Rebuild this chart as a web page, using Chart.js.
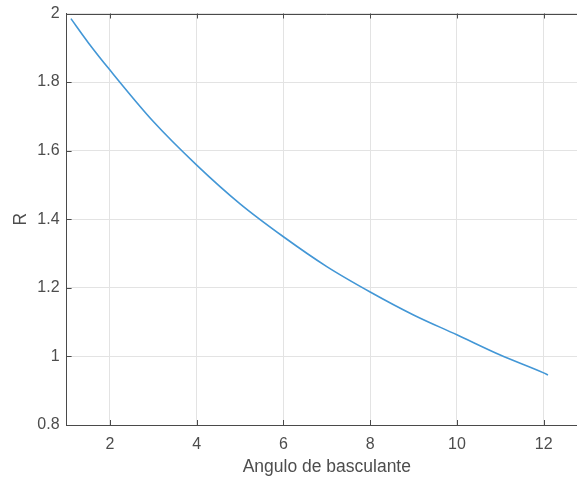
<!DOCTYPE html>
<html>
<head>
<meta charset="utf-8">
<script src="https://cdn.jsdelivr.net/npm/chart.js@4.4.1/dist/chart.umd.min.js"></script>
<style>
html,body{margin:0;padding:0;background:#fff;overflow:hidden;width:577px;height:478px;}
#wrap{position:absolute;left:0;top:0;width:600px;height:478px;}
</style>
</head>
<body>
<div id="wrap"><canvas id="c" width="600" height="478"></canvas></div>
<script>
// Data
const anguloValues = [1.1, 1.5, 2, 3, 4, 5, 6, 7, 8, 9, 10, 11, 12, 12.1];
const rValues      = [1.985, 1.915, 1.835, 1.685, 1.558, 1.445, 1.349, 1.262, 1.188, 1.121, 1.063, 1.004, 0.952, 0.946];
const xTickValues  = [2, 4, 6, 8, 10, 12];
const yTickValues  = [0.8, 1, 1.2, 1.4, 1.6, 1.8, 2];
const xTitle = 'Angulo de basculante';
const yTitle = 'R';

const points = anguloValues.map((x, i) => ({x: x, y: rValues[i]}));
const AXIS = '#4a4a4a';
const FONT = "'Liberation Sans', Arial, Helvetica, sans-serif";

const innerTicks = {
  id: 'innerTicks',
  afterDatasetsDraw(chart) {
    const {ctx, chartArea: a, scales: {x, y}} = chart;
    ctx.save();
    ctx.strokeStyle = AXIS;
    ctx.lineWidth = 1;
    ctx.beginPath();
    ctx.moveTo(a.left, Math.round(a.top) + 0.5);
    ctx.lineTo(a.right, Math.round(a.top) + 0.5);
    ctx.stroke();
    ctx.beginPath();
    xTickValues.forEach(v => {
      const px = Math.round(x.getPixelForValue(v)) + 0.5;
      ctx.moveTo(px, a.bottom); ctx.lineTo(px, a.bottom - 5);
      ctx.moveTo(px, a.top); ctx.lineTo(px, a.top + 5);
    });
    yTickValues.forEach(v => {
      const py = Math.round(y.getPixelForValue(v)) + 0.5;
      ctx.moveTo(a.left, py); ctx.lineTo(a.left + 5, py);
    });
    ctx.stroke();
    ctx.restore();
  }
};

new Chart(document.getElementById('c'), {
  type: 'line',
  data: {
    datasets: [{
      data: points,
      borderColor: '#4397d6',
      borderWidth: 1.6,
      pointRadius: 0,
      cubicInterpolationMode: 'monotone',
      fill: false
    }]
  },
  options: {
    responsive: false,
    animation: false,
    layout: {padding: {left: 0, top: 13.5, right: 13, bottom: 0}},
    plugins: {legend: {display: false}, tooltip: {enabled: false}},
    scales: {
      x: {
        type: 'linear',
        min: 1, max: 13,
        afterBuildTicks: s => { s.ticks = xTickValues.map(v => ({value: v})); },
        afterFit: s => { s.height = 53; s.paddingLeft = 0; s.paddingRight = 0; },
        grid: {color: '#e3e3e3', drawTicks: false, lineWidth: 1},
        border: {color: AXIS, width: 1},
        ticks: {color: '#4d4d4d', font: {family: FONT, size: 16}, padding: 10, maxRotation: 0,
                callback: v => String(v)},
        title: {display: true, text: xTitle, color: '#4d4d4d', font: {family: FONT, size: 17.5}, padding: {top: 0, bottom: 0}}
      },
      y: {
        type: 'linear',
        min: 0.8, max: 2,
        afterBuildTicks: s => { s.ticks = yTickValues.map(v => ({value: v})); },
        afterFit: s => { s.width = 66.6; s.paddingTop = 0; s.paddingBottom = 0; },
        grid: {color: '#e3e3e3', drawTicks: false, lineWidth: 1},
        border: {color: AXIS, width: 1},
        ticks: {color: '#4d4d4d', font: {family: FONT, size: 16}, padding: 7,
                callback: v => String(Math.round(v * 10) / 10)},
        title: {display: true, text: yTitle, color: '#4d4d4d', font: {family: FONT, size: 17.5}, padding: {top: 11, bottom: 0}}
      }
    }
  },
  plugins: [innerTicks]
});
</script>
</body>
</html>
